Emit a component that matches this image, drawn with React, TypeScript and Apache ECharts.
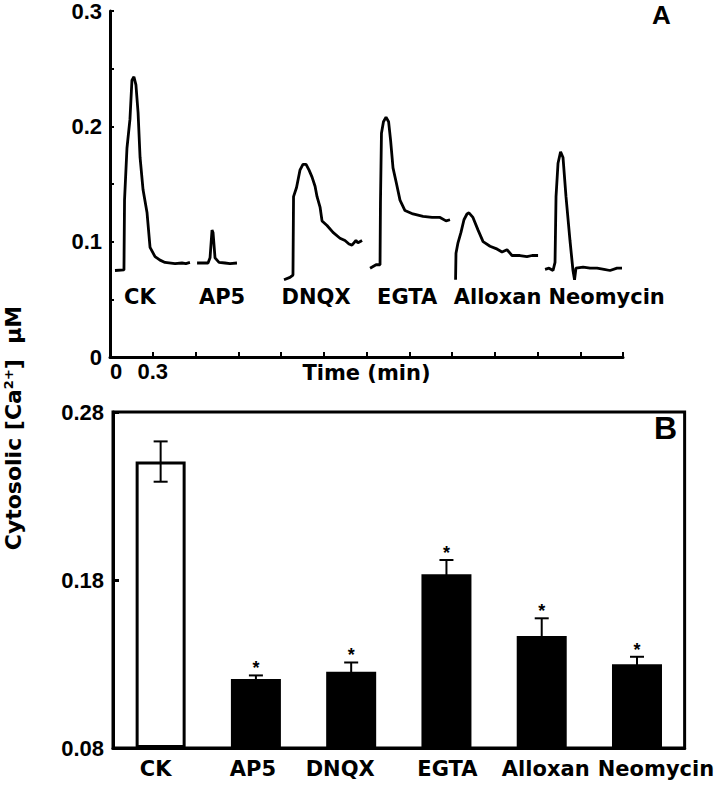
import React, { useEffect, useRef } from "react";
import * as echarts from "echarts";

// ---------- Panel A: traces (time in min, cytosolic Ca2+ in µM) ----------
const ckTrace: [number, number][] = [
  [0.035, 0.075], [0.098, 0.0755], [0.102, 0.136], [0.119, 0.181], [0.14, 0.206],
  [0.154, 0.24], [0.168, 0.243], [0.182, 0.236], [0.197, 0.212], [0.211, 0.173],
  [0.232, 0.145], [0.26, 0.125], [0.281, 0.095], [0.316, 0.087], [0.351, 0.084],
  [0.386, 0.082], [0.456, 0.081], [0.505, 0.0815], [0.533, 0.081], [0.561, 0.082],
];
const ap5Trace: [number, number][] = [
  [0.611, 0.0815], [0.688, 0.0815], [0.702, 0.086], [0.716, 0.11], [0.723, 0.108],
  [0.737, 0.086], [0.765, 0.082], [0.807, 0.0815], [0.842, 0.081], [0.891, 0.0815],
];
const dnqxTrace: [number, number][] = [
  [1.221, 0.067], [1.263, 0.069], [1.284, 0.071], [1.288, 0.139], [1.309, 0.147],
  [1.333, 0.162], [1.354, 0.167], [1.376, 0.167], [1.397, 0.162], [1.418, 0.156],
  [1.439, 0.148], [1.453, 0.139], [1.474, 0.13], [1.488, 0.118], [1.523, 0.114],
  [1.565, 0.108], [1.614, 0.103], [1.649, 0.101], [1.677, 0.098], [1.698, 0.097],
  [1.726, 0.101], [1.74, 0.099], [1.769, 0.101],
];
const egtaTrace: [number, number][] = [
  [1.825, 0.077], [1.867, 0.08], [1.895, 0.08], [1.898, 0.134], [1.905, 0.194],
  [1.919, 0.204], [1.937, 0.208], [1.955, 0.204], [1.969, 0.188], [1.986, 0.164],
  [2.011, 0.15], [2.035, 0.136], [2.07, 0.127], [2.126, 0.124], [2.197, 0.122],
  [2.26, 0.121], [2.316, 0.121], [2.358, 0.118], [2.386, 0.119],
];
const alloxanTrace: [number, number][] = [
  [2.425, 0.067], [2.428, 0.09], [2.442, 0.099], [2.463, 0.108], [2.484, 0.119],
  [2.505, 0.124], [2.519, 0.125], [2.547, 0.121], [2.583, 0.11], [2.618, 0.1],
  [2.667, 0.096], [2.709, 0.094], [2.751, 0.091], [2.786, 0.093], [2.821, 0.088],
  [2.877, 0.088], [2.926, 0.087], [2.962, 0.088], [3.004, 0.088],
];
const neomycinTrace: [number, number][] = [
  [3.053, 0.076], [3.081, 0.077], [3.109, 0.075], [3.123, 0.082], [3.13, 0.139],
  [3.144, 0.168], [3.162, 0.178], [3.179, 0.173], [3.2, 0.139], [3.228, 0.101],
  [3.249, 0.075], [3.26, 0.067], [3.27, 0.077], [3.32, 0.078], [3.369, 0.077],
  [3.418, 0.077], [3.467, 0.076], [3.509, 0.075], [3.558, 0.077], [3.593, 0.077],
];
const traceNames = ["CK", "AP5", "DNQX", "EGTA", "Alloxan", "Neomycin"];
const traceLabelPos: [number, number][] = [
  [0.21, 0.052], [0.786, 0.052], [1.446, 0.052], [2.085, 0.052], [2.72, 0.052], [3.485, 0.052],
];
const timeLabels = ["0", "0.3"];

// ---------- Panel B: bar means ± error ----------
const categories = ["CK", "AP5", "DNQX", "EGTA", "Alloxan", "Neomycin"];
const means = [0.2505, 0.121, 0.1254, 0.1834, 0.1467, 0.1298];
const errors = [0.012, 0.0022, 0.0055, 0.0085, 0.0105, 0.0045];
const significant = [0, 1, 1, 1, 1, 1];
const barTicks = [0.08, 0.18, 0.28];
// horizontal nudge of each category label (px, + = right), as in the reference
const categoryLabelShift = [-5, -3, -11, 1, 4, 19];

const NUM_FONT = "Liberation Sans";
const WORD_FONT = "DejaVu Sans";

export default function App() {
  const ref = useRef<HTMLDivElement>(null);
  useEffect(() => {
    if (!ref.current) return;
    const chart = echarts.init(ref.current, undefined, { renderer: "svg" });
    const traces = [ckTrace, ap5Trace, dnqxTrace, egtaTrace, alloxanTrace, neomycinTrace];
    const num = { color: "#000", fontFamily: NUM_FONT, fontWeight: "bold" as const, fontSize: 22 };
    const word = { color: "#000", fontFamily: WORD_FONT, fontWeight: "bold" as const, fontSize: 21 };
    const catRich: any = {};
    categoryLabelShift.forEach((s, i) => {
      catRich["c" + i] = {
        ...word,
        padding: s >= 0 ? [0, 0, 0, 2 * s] : [0, -2 * s, 0, 0],
      };
    });
    const option: any = {
      animation: false,
      backgroundColor: "#fff",
      textStyle: { fontFamily: WORD_FONT, fontWeight: "bold", color: "#000" },
      grid: [
        { left: 110, top: 11, width: 513, height: 346 },
        { left: 113, top: 412, width: 574, height: 336, show: true, borderColor: "#000", borderWidth: 3, backgroundColor: "transparent" },
      ],
      xAxis: [
        {
          gridIndex: 0, type: "value", min: 0, max: 3.6, interval: 0.3,
          axisLine: { lineStyle: { color: "#000", width: 3 } },
          axisTick: { inside: true, length: 5, lineStyle: { color: "#000", width: 2 } },
          axisLabel: {
            ...num, margin: 3, alignMinLabel: "left",
            formatter: (v: number) => (v === 0 ? timeLabels[0] : Math.abs(v - 0.3) < 1e-9 ? timeLabels[1] : ""),
          },
          splitLine: { show: false },
          name: "Time (min)", nameLocation: "middle", nameGap: 5, nameMoveOverlap: false,
          nameTextStyle: { ...word, verticalAlign: "top" },
        },
        {
          gridIndex: 1, type: "category", data: categories,
          axisLine: { lineStyle: { color: "#000", width: 3 } },
          axisTick: { inside: true, length: 6, lineStyle: { color: "#000", width: 2 } },
          axisLabel: {
            ...word, margin: 10, interval: 0, hideOverlap: false,
            formatter: (v: string, i: number) => `{c${i}|${v}}`,
            rich: catRich,
          },
          splitLine: { show: false },
        },
      ],
      yAxis: [
        {
          gridIndex: 0, type: "value", min: 0, max: 0.3, interval: 0.05,
          axisLine: { show: true, lineStyle: { color: "#000", width: 3 } },
          axisTick: { show: true, inside: true, length: 4, lineStyle: { color: "#000", width: 2 } },
          axisLabel: {
            ...num, margin: 8,
            formatter: (v: number) => {
              const r = Math.round(v * 100);
              if (r % 10 !== 0) return "";
              return r === 0 ? "0" : (r / 100).toFixed(1);
            },
          },
          splitLine: { show: false },
        },
        {
          gridIndex: 1, type: "value", min: 0.08, max: 0.28, startValue: 0.08,
          axisLine: { show: true, lineStyle: { color: "#000", width: 3 } },
          axisTick: { show: true, inside: true, length: 6, customValues: barTicks, lineStyle: { color: "#000", width: 3 } },
          axisLabel: { ...num, margin: 9, customValues: barTicks, formatter: (v: number) => v.toFixed(2) },
          splitLine: { show: false },
        },
      ],
      graphic: [
        { type: "text", x: 652, y: 2, style: { text: "A", fill: "#000", font: `bold 26px "${NUM_FONT}"`, textAlign: "left", textVerticalAlign: "top" } },
        { type: "text", x: 654, y: 412, style: { text: "B", fill: "#000", font: `bold 32px "${NUM_FONT}"`, textAlign: "left", textVerticalAlign: "top" } },
        {
          type: "text", x: 13, y: 428, rotation: Math.PI / 2,
          style: {
            text: "{a|Cytosolic [Ca}{s|2+}{a|]  μM}",
            textAlign: "center", textVerticalAlign: "middle", fill: "#000",
            font: `bold 22px "${WORD_FONT}"`,
            rich: {
              a: { font: `bold 22px "${WORD_FONT}"`, fill: "#000" },
              s: { font: `bold 13px "${WORD_FONT}"`, fill: "#000", verticalAlign: "top" },
            },
          },
        },
      ],
      series: [
        ...traces.map((t, i) => ({
          name: traceNames[i], type: "line", xAxisIndex: 0, yAxisIndex: 0,
          data: t, showSymbol: false, symbol: "none",
          lineStyle: { color: "#000", width: 2.8 }, z: 3,
        })),
        {
          type: "scatter", xAxisIndex: 0, yAxisIndex: 0, symbolSize: 0,
          itemStyle: { color: "#000", opacity: 1 },
          data: traceLabelPos.map((p, i) => ({ name: traceNames[i], value: p })),
          label: { show: true, position: "inside", formatter: "{b}", ...word, textBorderWidth: 0, opacity: 1 },
          z: 5,
        },
        {
          type: "bar", xAxisIndex: 1, yAxisIndex: 1, barWidth: 50,
          data: means.map((m, i) => ({
            value: m,
            itemStyle: i === 0
              ? { color: "#fff", borderColor: "#000", borderWidth: 3 }
              : { color: "#000", borderColor: "#000", borderWidth: 0 },
          })),
          z: 2,
        },
        {
          type: "custom", xAxisIndex: 1, yAxisIndex: 1, z: 4,
          data: means.map((m, i) => [i, m, errors[i], significant[i]]),
          renderItem: (params: any, api: any) => {
            const x = api.value(0), m = api.value(1), e = api.value(2), sig = api.value(3);
            const top = api.coord([x, m + e]);
            const bot = api.coord([x, m - e]);
            const half = 7;
            const st = { stroke: "#000", lineWidth: 2 };
            const children: any[] = [
              { type: "line", shape: { x1: top[0], y1: top[1], x2: bot[0], y2: bot[1] }, style: st },
              { type: "line", shape: { x1: top[0] - half, y1: top[1], x2: top[0] + half, y2: top[1] }, style: st },
              { type: "line", shape: { x1: bot[0] - half, y1: bot[1], x2: bot[0] + half, y2: bot[1] }, style: st },
            ];
            if (sig) {
              children.push({
                type: "text", x: top[0], y: top[1] + 2,
                style: { text: "*", fill: "#000", font: `bold 18px "${NUM_FONT}"`, textAlign: "center", textVerticalAlign: "bottom" },
              });
            }
            return { type: "group", children };
          },
        },
      ],
    };
    chart.setOption(option);
    return () => chart.dispose();
  }, []);
  return <div ref={ref} style={{ width: 717, height: 787, position: "fixed", left: 0, top: 0 }} />;
}
